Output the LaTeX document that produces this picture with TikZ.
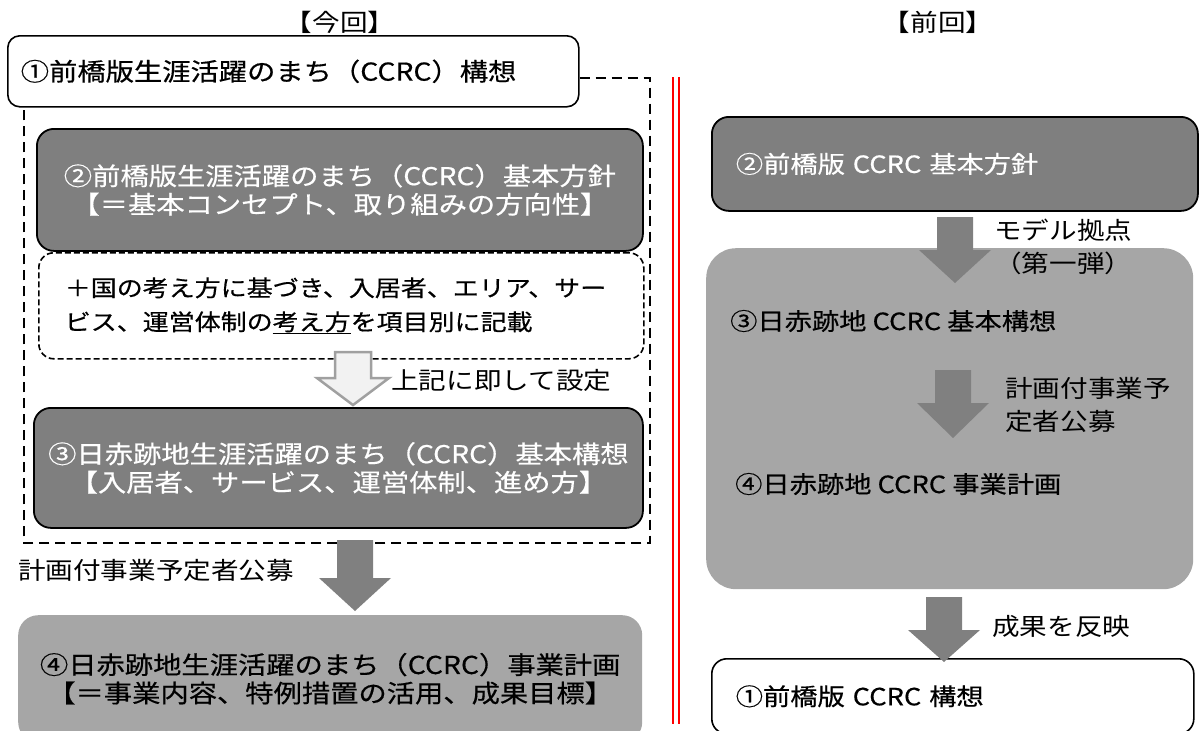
\documentclass[tikz,border=0pt]{standalone}
\usepackage{fontspec}
\setmainfont{Noto Sans CJK JP}[FakeStretch=1.15]
\newfontfamily\boxfamily{Noto Sans CJK JP}[FakeStretch=1.15, FakeBold=0.5]
\usetikzlibrary{calc}

\definecolor{boxdark}{HTML}{7F7F7F}
\definecolor{boxlight}{HTML}{A6A6A6}
\definecolor{arrowgray}{HTML}{808080}
\definecolor{hollowfill}{HTML}{F2F2F2}
\definecolor{hollowedge}{HTML}{A0A0A0}

\newcommand{\boxfont}{\boxfamily\fontsize{24.6}{28.4}\selectfont}
\newcommand{\notefont}{\boxfamily\fontsize{22.6}{34}\selectfont}
\newcommand{\labfont}{\fontsize{24}{33}\selectfont}
\newcommand{\rightfont}{\boxfamily\fontsize{23.7}{28}\selectfont}

% block arrow pointing down: [style]{x}{top}{head base}{tip}
\newcommand{\fatarrow}[5][]{%
  \draw[#1] (#2-18,#3) -- (#2+18,#3) -- (#2+18,#4) -- (#2+36,#4)
    -- (#2,#5) -- (#2-36,#4) -- (#2-18,#4) -- cycle;}

\tikzset{
  box/.style={anchor=north west, inner sep=0pt, align=center, font=\boxfont},
  whitebox/.style={box, draw=black, line width=1.6pt, fill=white, rounded corners=12pt},
  darkbox/.style={box, draw=black, line width=1.8pt, fill=boxdark, text=white, rounded corners=17pt},
  lightbox/.style={box, fill=boxlight, rounded corners=20pt},
  notebox/.style={box, draw=black, line width=1.6pt, dash pattern=on 6pt off 3pt,
    fill=white, rounded corners=15pt, font=\notefont, align=left},
  labeltext/.style={inner sep=0pt, font=\labfont, align=left},
  plaintext/.style={inner sep=0pt, font=\rightfont, anchor=west},
  groupline/.style={line width=2.2pt, dash pattern=on 10pt off 6pt},
  redrule/.style={draw=red, line width=2pt, double=white, double distance=4pt},
  hollow/.style={fill=hollowfill, draw=hollowedge, line width=2.5pt, line join=miter},
  solid gray/.style={fill=arrowgray, draw=none}
}

\begin{document}
\begin{tikzpicture}[x=1pt,y=-1pt]
\useasboundingbox (0,0) rectangle (1203,731);

% Titles
\node[labeltext] (nowtitle) at (340,22) {【今回】};
\node[labeltext] (prevtitle) at (938,22) {【前回】};

% Left column (current)
\node[whitebox, minimum width=571pt, minimum height=71pt, text width=545pt,
  inner xsep=13pt, align=left] (one) at (7,35) {①前橋版生涯活躍のまち（CCRC）構想};
\node[darkbox, minimum width=606pt, minimum height=122pt] (two) at (36,128)
  {②前橋版生涯活躍のまち（CCRC）基本方針\\【＝基本コンセプト、取り組みの方向性】};
\node[notebox, minimum width=605pt, minimum height=106pt, text width=553pt,
  inner xsep=26pt] (note) at (38,252)
  {＋国の考え方に基づき、入居者、エリア、サー\\ビス、運営体制の\underline{考え方}を項目別に記載};
\node[darkbox, minimum width=609pt, minimum height=120pt] (three) at (33,407)
  {③日赤跡地生涯活躍のまち（CCRC）基本構想\\【入居者、サービス、運営体制、進め方】};
\node[lightbox, minimum width=624pt, minimum height=127pt] (four) at (18,615)
  {④日赤跡地生涯活躍のまち（CCRC）事業計画\\【＝事業内容、特例措置の活用、成果目標】};

% Group frame around 1-3
\draw[groupline] (one.east |- 0,78) -| (650,543) -| (one.south -| 24,0);

% Left arrows and labels
\fatarrow[hollow]{353}{352}{378}{405}
\node[labeltext, anchor=west] (setlab) at (391,380) {上記に即して設定};
\fatarrow[solid gray]{355}{540}{578}{611}
\node[labeltext, anchor=west] (publab) at (18,570) {計画付事業予定者公募};

% Divider
\draw[redrule] (676,77) -- (676,724);

% Right column (previous)
\node[darkbox, minimum width=486pt, minimum height=94pt, text width=438pt,
  inner xsep=24pt, align=left, font=\rightfont] (rtwo) at (711,116) {②前橋版 CCRC 基本方針};
\node[lightbox, minimum width=487pt, minimum height=341pt, rounded corners=30pt] (rbig) at (706,248) {};
\node[plaintext] (rthree) at (730,321) {③日赤跡地 CCRC 基本構想};
\node[plaintext] (rfour) at (735,484) {④日赤跡地 CCRC 事業計画};
\node[whitebox, minimum width=482pt, minimum height=75pt, text width=434pt,
  inner xsep=24pt, align=left, font=\rightfont, rounded corners=15pt] (rone) at (711,658) {①前橋版 CCRC 構想};

% Right arrows and labels
\fatarrow[solid gray]{955}{217}{250}{283}
\node[labeltext, anchor=west] (modellab) at (994,246.5) {モデル拠点\\（第一弾）};
\fatarrow[solid gray]{953}{370}{403}{438}
\node[labeltext, anchor=west] (rpublab) at (1005,404.5) {計画付事業予\\定者公募};
\fatarrow[solid gray]{944}{597}{630}{662}
\node[labeltext, anchor=west] (reflab) at (992,626) {成果を反映};
\end{tikzpicture}
\end{document}
